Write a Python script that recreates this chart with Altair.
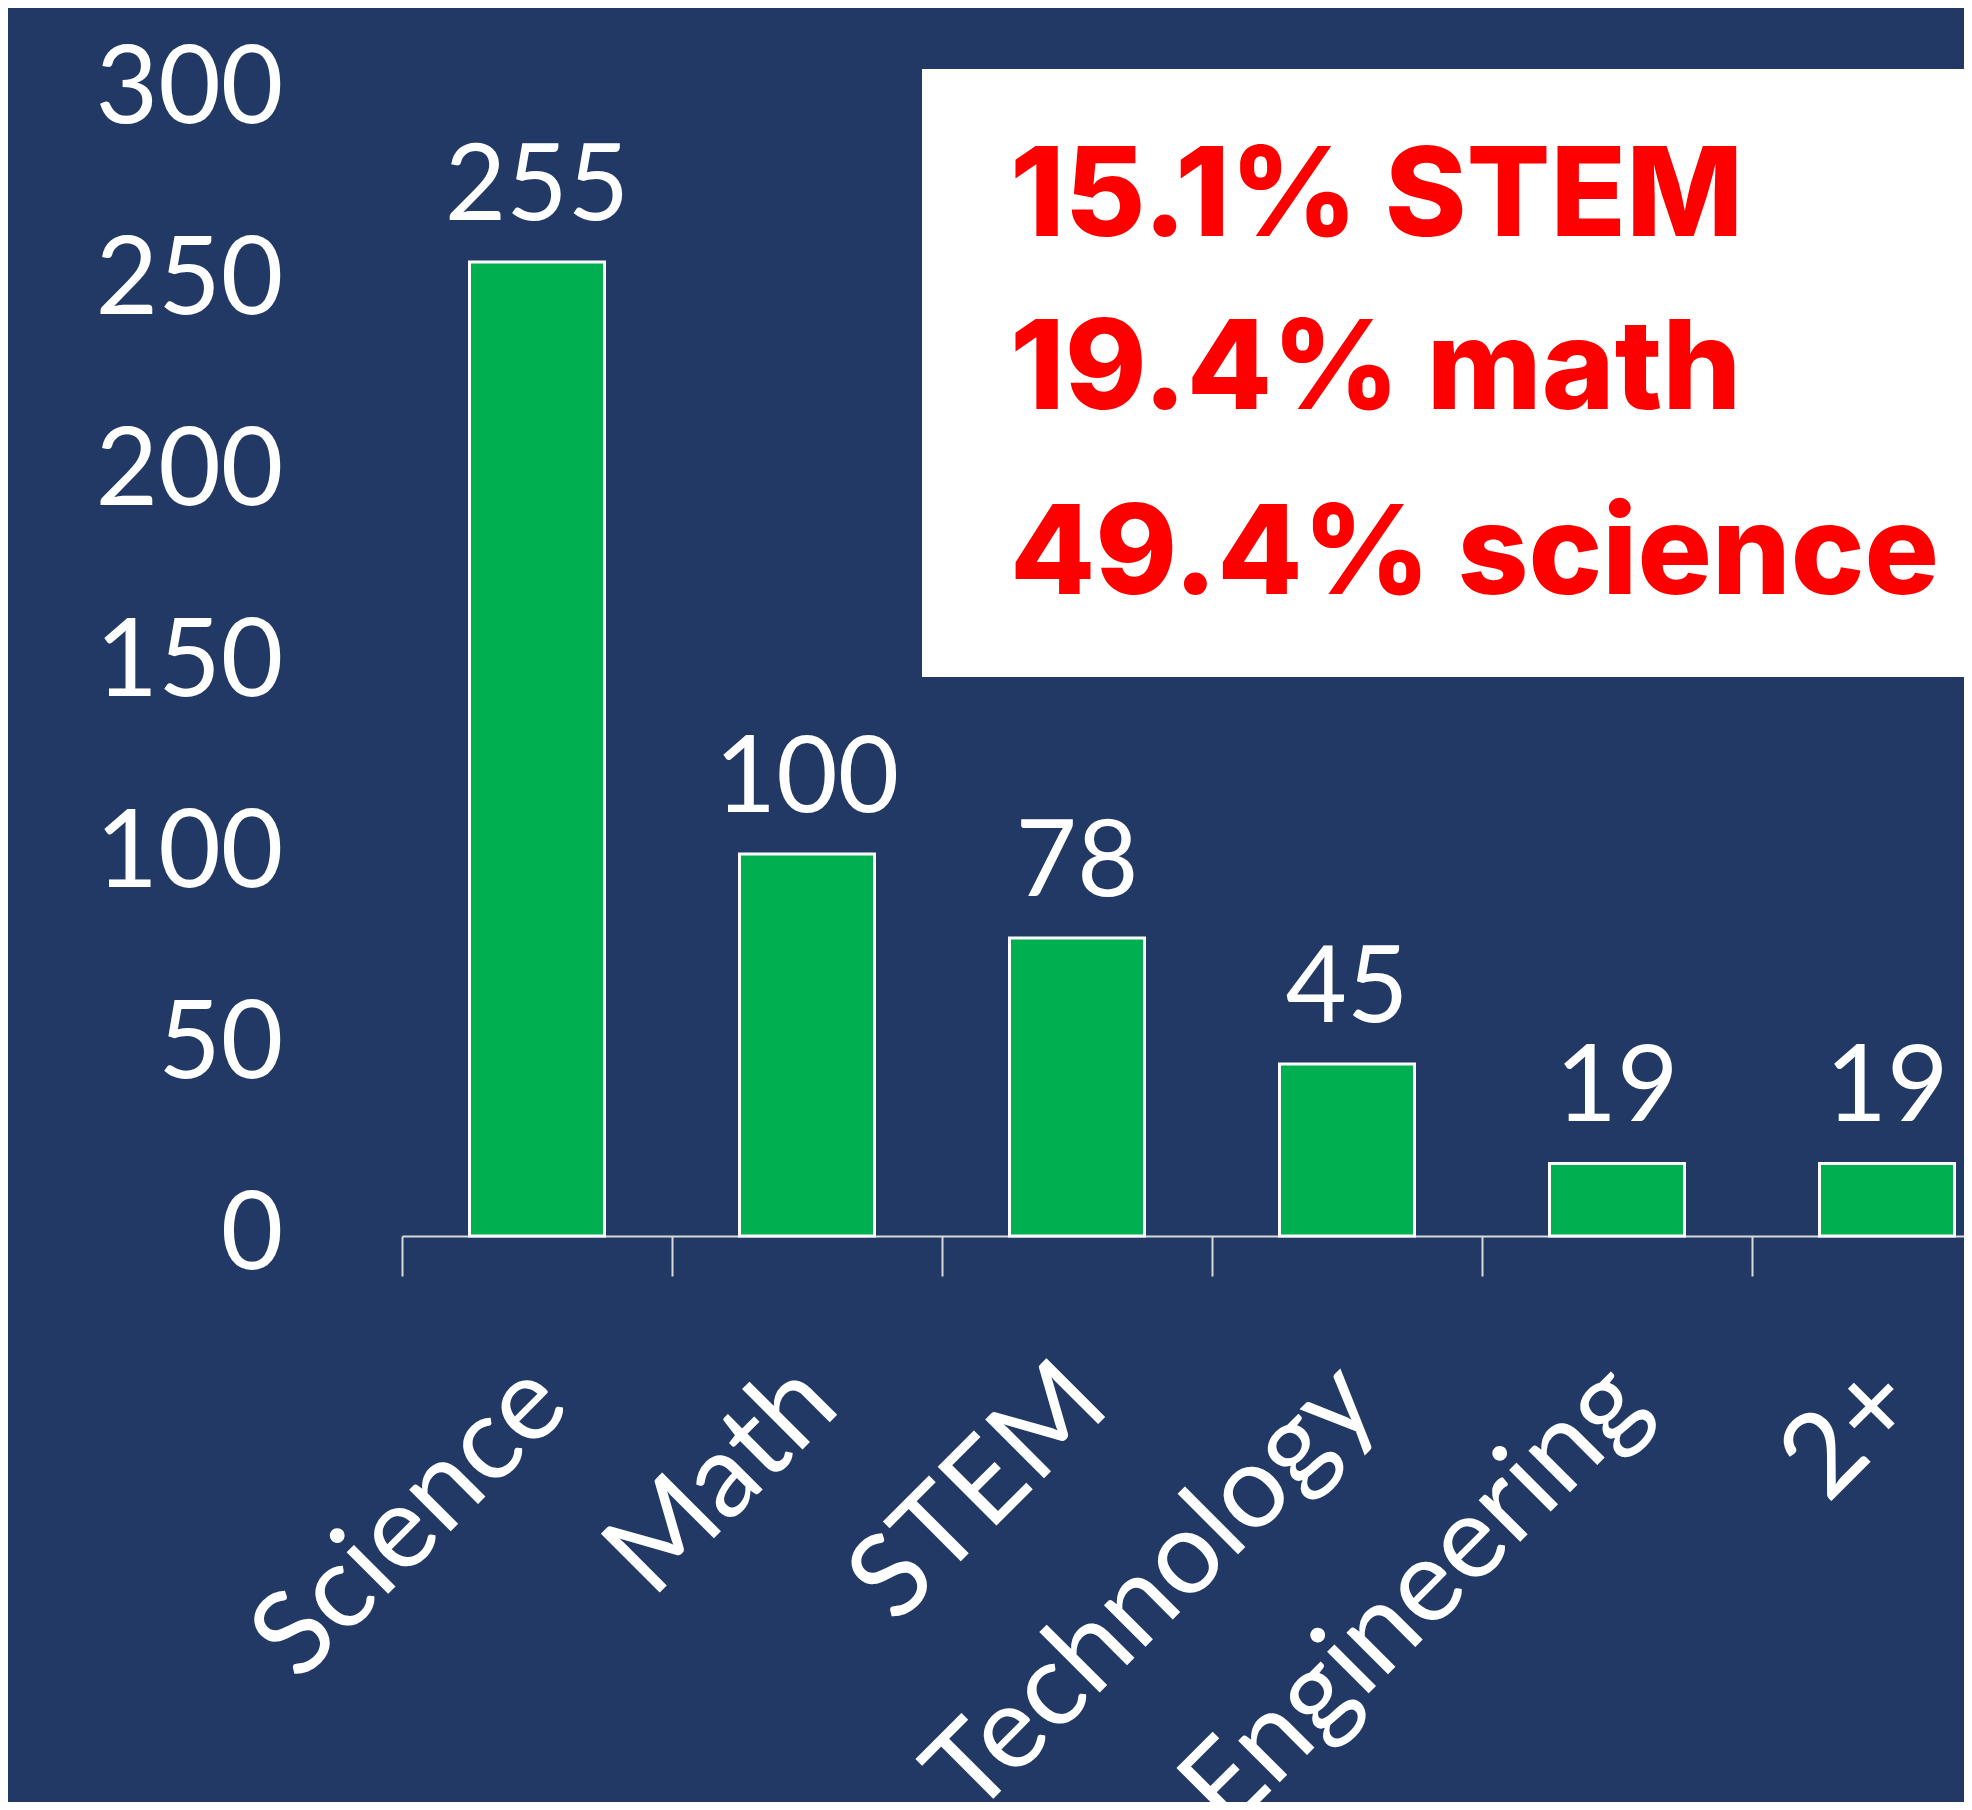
import altair as alt
import pandas as pd

# ---- data ----
categories = ["Science", "Math", "STEM", "Technology", "Engineering", "2+"]
counts = [255, 100, 78, 45, 19, 19]
y_ticks = [0, 50, 100, 150, 200, 250, 300]
note_lines = ["15.1% STEM", "19.4% math", "49.4% science"]

# ---- style / layout constants ----
BG = "#213964"
GREEN = "#00B050"
RED = "#FF0000"
AXIS_GRAY = "#D9D9D9"
BAND = 270
W = 1562
H = 1146
note_baselines = [146, 319, 504]

df = pd.DataFrame({"category": categories, "count": counts})

x_enc = alt.X(
    "category:N",
    sort=categories,
    scale=alt.Scale(range=[0, BAND * len(categories)], paddingInner=0, paddingOuter=0),
    axis=alt.Axis(
        title=None,
        labelAngle=-45,
        labelFont="Lato",
        labelFontSize=116,
        labelColor="white",
        labelPadding=68,
        labelOffset=-30,
        labelLimit=0,
        tickBand="extent",
        ticks=True,
        tickSize=40,
        tickColor=AXIS_GRAY,
        tickWidth=2,
        domainColor=AXIS_GRAY,
        domainWidth=2,
        grid=False,
        labelOverlap=False,
    ),
)
y_enc = alt.Y(
    "count:Q",
    scale=alt.Scale(domain=[0, 300], nice=False),
    axis=alt.Axis(
        title=None,
        values=y_ticks,
        labelFont="Lato",
        labelFontSize=108,
        labelColor="white",
        labelPadding=119,
        labelLimit=0,
        ticks=False,
        domain=False,
        grid=False,
    ),
)

base = alt.Chart(df)
bars = base.mark_bar(
    width=alt.RelativeBandSize(0.5), color=GREEN, stroke="white", strokeWidth=3
).encode(x=x_enc, y=y_enc)

values = base.mark_text(
    font="Lato", fontSize=106, color="white", baseline="alphabetic", dy=-42
).encode(x=alt.X("category:N", sort=categories), y="count:Q", text="count:Q")

box = alt.Chart(pd.DataFrame({"k": [0]})).mark_rect(fill="white").encode(
    x=alt.value(520), x2=alt.value(1700), y=alt.value(-21), y2=alt.value(587)
)

note_layers = []
for i, line in enumerate(note_lines):
    note_layers.append(
        alt.Chart(pd.DataFrame({"line": [line]}))
        .mark_text(
            font="Inter", fontSize=124, fontWeight=800, color=RED,
            align="left", baseline="alphabetic",
        )
        .encode(text="line:N", x=alt.value(608), y=alt.value(note_baselines[i]))
    )

chart = (
    alt.layer(bars, values, box, *note_layers)
    .properties(
        width=W,
        height=H,
        background=BG,
        padding={"left": 394, "top": 82, "right": 0, "bottom": 566},
        autosize=alt.AutoSizeParams(type="none"),
    )
    .configure_view(stroke=None)
)

chart.save("out.html", embed_options={"renderer": "svg", "actions": False})
